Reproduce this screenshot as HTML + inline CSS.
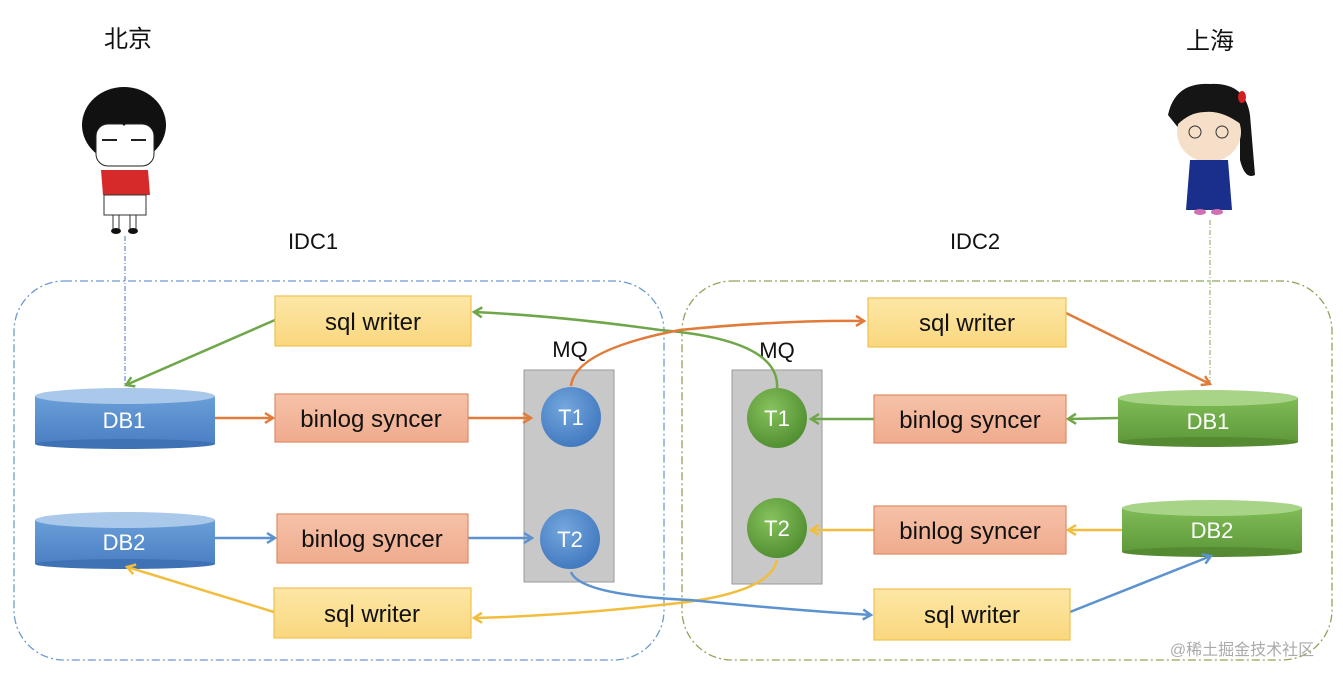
<!DOCTYPE html>
<html><head><meta charset="utf-8"><style>
html,body{margin:0;padding:0;background:#fff;}
svg{display:block;font-family:"Liberation Sans","Noto Sans CJK SC",sans-serif;}
</style></head><body>
<svg width="1343" height="680" viewBox="0 0 1343 680" xmlns="http://www.w3.org/2000/svg">
<defs>
<linearGradient id="yel" x1="0" y1="0" x2="0" y2="1"><stop offset="0" stop-color="#fde7a6"/><stop offset="1" stop-color="#f9d77e"/></linearGradient>
<linearGradient id="org" x1="0" y1="0" x2="0" y2="1"><stop offset="0" stop-color="#f6c2a8"/><stop offset="1" stop-color="#efab8e"/></linearGradient>
<linearGradient id="bl" x1="0" y1="0" x2="0" y2="1"><stop offset="0" stop-color="#6a9fd8"/><stop offset="1" stop-color="#4a80c4"/></linearGradient>
<linearGradient id="gr" x1="0" y1="0" x2="0" y2="1"><stop offset="0" stop-color="#7fbb55"/><stop offset="1" stop-color="#5e9a3a"/></linearGradient>
<radialGradient id="cb" cx="0.4" cy="0.35" r="0.7"><stop offset="0" stop-color="#74a7de"/><stop offset="1" stop-color="#3f77be"/></radialGradient>
<radialGradient id="cg" cx="0.4" cy="0.35" r="0.7"><stop offset="0" stop-color="#86c25c"/><stop offset="1" stop-color="#4f8c2f"/></radialGradient>
<marker id="ao" markerWidth="14" markerHeight="14" refX="10" refY="7" orient="auto" markerUnits="userSpaceOnUse"><path d="M2,2 L10,7 L2,12" fill="none" stroke="#e07b39" stroke-width="2.5"/></marker>
<marker id="ag" markerWidth="14" markerHeight="14" refX="10" refY="7" orient="auto" markerUnits="userSpaceOnUse"><path d="M2,2 L10,7 L2,12" fill="none" stroke="#6fa64a" stroke-width="2.5"/></marker>
<marker id="ay" markerWidth="14" markerHeight="14" refX="10" refY="7" orient="auto" markerUnits="userSpaceOnUse"><path d="M2,2 L10,7 L2,12" fill="none" stroke="#f2bd3c" stroke-width="2.5"/></marker>
<marker id="ab" markerWidth="14" markerHeight="14" refX="10" refY="7" orient="auto" markerUnits="userSpaceOnUse"><path d="M2,2 L10,7 L2,12" fill="none" stroke="#5b92cf" stroke-width="2.5"/></marker>
</defs>

<rect x="14" y="281" width="650" height="379" rx="50" fill="none" stroke="#6c9bd2" stroke-width="1.3" stroke-dasharray="8,3,2,3"/>
<rect x="682" y="281" width="650" height="379" rx="50" fill="none" stroke="#8fa55a" stroke-width="1.3" stroke-dasharray="8,3,2,3"/>

<text x="128" y="47" font-size="24" text-anchor="middle" fill="#111">北京</text>
<text x="1210" y="49" font-size="24" text-anchor="middle" fill="#111">上海</text>
<text x="313" y="249" font-size="22" text-anchor="middle" fill="#111">IDC1</text>
<text x="975" y="249" font-size="22" text-anchor="middle" fill="#111">IDC2</text>

<line x1="125" y1="236" x2="125" y2="384" stroke="#4a72c4" stroke-width="1" stroke-dasharray="5,2,1,2"/>
<line x1="1210" y1="220" x2="1210" y2="384" stroke="#8fa55a" stroke-width="1" stroke-dasharray="5,2,1,2"/>

<g>
<ellipse cx="124" cy="125" rx="42" ry="38" fill="#111"/>
<rect x="96" y="124" width="58" height="42" rx="12" fill="#fff" stroke="#222"/>
<path d="M96,124 Q110,110 124,126 Q138,110 154,124 L154,112 L96,112Z" fill="#111"/>
<line x1="102" y1="140" x2="117" y2="140" stroke="#222" stroke-width="2"/>
<line x1="131" y1="140" x2="146" y2="140" stroke="#222" stroke-width="2"/>
<path d="M101,170 L148,170 L150,195 L103,195Z" fill="#d62a2a"/>
<rect x="104" y="195" width="42" height="20" fill="#fff" stroke="#333"/>
<rect x="113" y="215" width="6" height="15" fill="#fff" stroke="#333"/>
<rect x="130" y="215" width="6" height="15" fill="#fff" stroke="#333"/>
<ellipse cx="116" cy="231" rx="5" ry="3" fill="#111"/><ellipse cx="133" cy="231" rx="5" ry="3" fill="#111"/>
</g>
<g>
<path d="M1168,115 Q1175,82 1210,84 Q1245,82 1250,115 L1255,175 Q1245,180 1240,160 L1240,130 L1180,130Z" fill="#151515"/>
<ellipse cx="1209" cy="132" rx="32" ry="30" fill="#f6dfc8"/>
<path d="M1177,125 Q1185,95 1210,95 Q1237,95 1242,125 Q1222,110 1205,112 Q1190,112 1177,125Z" fill="#151515"/>
<ellipse cx="1242" cy="97" rx="4" ry="6" fill="#d02020"/>
<circle cx="1195" cy="132" r="6" fill="none" stroke="#333"/><circle cx="1222" cy="132" r="6" fill="none" stroke="#333"/>
<path d="M1190,160 L1228,160 L1232,210 L1186,210Z" fill="#1a2e8c"/>
<ellipse cx="1200" cy="212" rx="6" ry="3" fill="#d070b0"/><ellipse cx="1217" cy="212" rx="6" ry="3" fill="#d070b0"/>
</g>

<rect x="524" y="370" width="90" height="212" fill="#c8c8c8" stroke="#9a9a9a"/>
<rect x="732" y="370" width="90" height="214" fill="#c8c8c8" stroke="#9a9a9a"/>
<text x="570" y="357" font-size="22" text-anchor="middle" fill="#111">MQ</text>
<text x="777" y="358" font-size="22" text-anchor="middle" fill="#111">MQ</text>

<g>
<rect x="35" y="396" width="180" height="48" fill="url(#bl)"/><ellipse cx="125" cy="444" rx="90" ry="5" fill="#3f72b4"/><ellipse cx="125" cy="396" rx="90" ry="8" fill="#a9c8ea"/>
<rect x="35" y="520" width="180" height="44" fill="url(#bl)"/><ellipse cx="125" cy="564" rx="90" ry="5" fill="#3f72b4"/><ellipse cx="125" cy="520" rx="90" ry="8" fill="#a9c8ea"/>
<rect x="1118" y="398" width="180" height="44" fill="url(#gr)"/><ellipse cx="1208" cy="442" rx="90" ry="5" fill="#558a32"/><ellipse cx="1208" cy="398" rx="90" ry="8" fill="#a8d488"/>
<rect x="1122" y="508" width="180" height="44" fill="url(#gr)"/><ellipse cx="1212" cy="552" rx="90" ry="5" fill="#558a32"/><ellipse cx="1212" cy="508" rx="90" ry="8" fill="#a8d488"/>
</g>
<g font-size="22" fill="#fff" text-anchor="middle">
<text x="124" y="428">DB1</text><text x="124" y="550">DB2</text>
<text x="1208" y="429">DB1</text><text x="1212" y="538">DB2</text>
</g>

<path d="M275,320 L126,385" stroke="#6fa64a" stroke-width="2.5" fill="none" marker-end="url(#ag)"/>
<path d="M777,388 Q780,340 660,330 Q560,316 474,312" stroke="#6fa64a" stroke-width="2.5" fill="none" marker-end="url(#ag)"/>
<path d="M215,418 L273,418" stroke="#e07b39" stroke-width="2.5" fill="none" marker-end="url(#ao)"/>
<path d="M468,418 L531,418" stroke="#e07b39" stroke-width="2.5" fill="none" marker-end="url(#ao)"/>
<path d="M571,386 Q575,350 680,330 Q780,320 864,321" stroke="#e07b39" stroke-width="2.5" fill="none" marker-end="url(#ao)"/>
<path d="M1066,313 L1210,384" stroke="#e07b39" stroke-width="2.5" fill="none" marker-end="url(#ao)"/>
<path d="M1118,418 L1068,419" stroke="#6fa64a" stroke-width="2.5" fill="none" marker-end="url(#ag)"/>
<path d="M874,419 L811,419" stroke="#6fa64a" stroke-width="2.5" fill="none" marker-end="url(#ag)"/>
<path d="M1122,530 L1068,530" stroke="#f2bd3c" stroke-width="2.5" fill="none" marker-end="url(#ay)"/>
<path d="M874,530 L811,530" stroke="#f2bd3c" stroke-width="2.5" fill="none" marker-end="url(#ay)"/>
<path d="M777,560 Q770,595 660,605 Q560,616 474,618" stroke="#f2bd3c" stroke-width="2.5" fill="none" marker-end="url(#ay)"/>
<path d="M274,612 L127,567" stroke="#f2bd3c" stroke-width="2.5" fill="none" marker-end="url(#ay)"/>
<path d="M215,538 L275,538" stroke="#5b92cf" stroke-width="2.5" fill="none" marker-end="url(#ab)"/>
<path d="M468,538 L532,538" stroke="#5b92cf" stroke-width="2.5" fill="none" marker-end="url(#ab)"/>
<path d="M571,572 Q580,595 690,600 Q790,610 871,615" stroke="#5b92cf" stroke-width="2.5" fill="none" marker-end="url(#ab)"/>
<path d="M1070,612 L1211,556" stroke="#5b92cf" stroke-width="2.5" fill="none" marker-end="url(#ab)"/>

<circle cx="571" cy="417" r="30" fill="url(#cb)"/>
<circle cx="570" cy="539" r="30" fill="url(#cb)"/>
<circle cx="777" cy="418" r="30" fill="url(#cg)"/>
<circle cx="777" cy="528" r="30" fill="url(#cg)"/>
<g font-size="22" fill="#fff" text-anchor="middle">
<text x="571" y="425">T1</text><text x="570" y="547">T2</text>
<text x="777" y="426">T1</text><text x="777" y="536">T2</text>
</g>

<g stroke-width="1.2">
<rect x="275" y="296" width="196" height="50" fill="url(#yel)" stroke="#f0c050"/>
<rect x="274" y="588" width="197" height="50" fill="url(#yel)" stroke="#f0c050"/>
<rect x="868" y="298" width="198" height="49" fill="url(#yel)" stroke="#f0c050"/>
<rect x="874" y="589" width="196" height="51" fill="url(#yel)" stroke="#f0c050"/>
<rect x="275" y="394" width="193" height="48" fill="url(#org)" stroke="#e08b63"/>
<rect x="277" y="514" width="191" height="49" fill="url(#org)" stroke="#e08b63"/>
<rect x="874" y="395" width="192" height="48" fill="url(#org)" stroke="#e08b63"/>
<rect x="874" y="506" width="192" height="48" fill="url(#org)" stroke="#e08b63"/>
</g>
<g font-size="24" fill="#111" text-anchor="middle">
<text x="373" y="330">sql writer</text>
<text x="372" y="622">sql writer</text>
<text x="967" y="331">sql writer</text>
<text x="972" y="623">sql writer</text>
<text x="371" y="427">binlog syncer</text>
<text x="372" y="547">binlog syncer</text>
<text x="970" y="428">binlog syncer</text>
<text x="970" y="539">binlog syncer</text>
</g>
<text x="1242" y="655" font-size="16" fill="#aaa" text-anchor="middle">@稀土掘金技术社区</text>
</svg>
</body></html>
